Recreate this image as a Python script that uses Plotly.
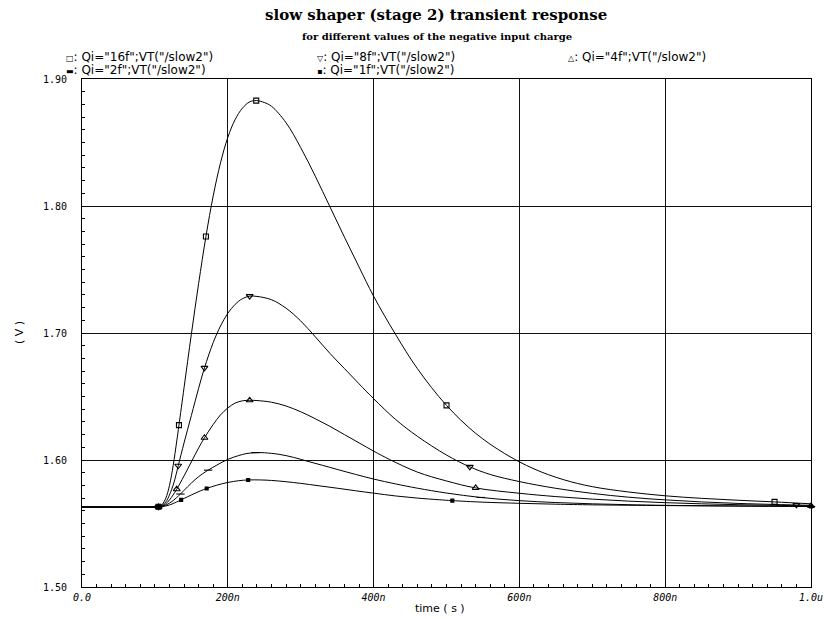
import plotly.graph_objects as go

# Transient response of the slow shaper, stage 2 output, VT("/slow2")
# time in ns, voltage in V

time_16f = [0, 100, 105, 110, 115, 120, 125, 130, 133, 140, 150, 160, 170, 180, 190, 200, 210,
            220, 230, 239, 250, 260, 280, 300, 320, 340, 360, 380, 400, 430, 460, 500, 540, 580,
            620, 660, 700, 750, 800, 850, 900, 950, 1000]
vt_16f = [1.563, 1.563, 1.5632, 1.5650, 1.5700, 1.5800, 1.5955, 1.6150, 1.6275, 1.6570, 1.6990,
          1.7390, 1.7760, 1.8080, 1.8340, 1.8540, 1.8680, 1.8770, 1.8820, 1.8830, 1.8815, 1.8785,
          1.8655, 1.8460, 1.8235, 1.7995, 1.7755, 1.7520, 1.7290, 1.6990, 1.6720, 1.6430, 1.6210,
          1.6050, 1.5930, 1.5846, 1.5790, 1.5748, 1.5718, 1.5698, 1.5683, 1.5670, 1.5655]

time_8f = [0, 100, 105, 110, 115, 120, 126, 132, 140, 150, 160, 168, 180, 190, 200, 210, 220,
           230, 240, 260, 280, 300, 320, 340, 360, 380, 400, 430, 460, 500, 532, 560, 600, 650,
           700, 750, 800, 850, 900, 950, 980, 1000]
vt_8f = [1.563, 1.563, 1.5632, 1.5645, 1.5670, 1.5725, 1.5820, 1.5955, 1.6135, 1.6350, 1.6565,
         1.6725, 1.6925, 1.7055, 1.7155, 1.7225, 1.7270, 1.7290, 1.7288, 1.7262, 1.7195, 1.7095,
         1.6970, 1.6840, 1.6720, 1.6600, 1.6483, 1.6320, 1.6187, 1.6039, 1.5946, 1.5886, 1.5830,
         1.5777, 1.5737, 1.5707, 1.5686, 1.5670, 1.5658, 1.5650, 1.5646, 1.5643]

time_4f = [0, 100, 105, 110, 115, 120, 125, 130, 140, 150, 160, 168, 180, 190, 200, 210, 220,
           230, 240, 260, 280, 300, 320, 340, 360, 380, 400, 422, 460, 500, 540, 600, 650, 700,
           750, 800, 850, 900, 950, 1000]
vt_4f = [1.563, 1.563, 1.5631, 1.5638, 1.5655, 1.5685, 1.5725, 1.5770, 1.5875, 1.5985, 1.6095,
         1.6175, 1.6280, 1.6355, 1.6410, 1.6448, 1.6466, 1.6470, 1.6468, 1.6455, 1.6425, 1.6380,
         1.6325, 1.6265, 1.6200, 1.6135, 1.6070, 1.6004, 1.5905, 1.5835, 1.5780, 1.5738, 1.5712,
         1.5692, 1.5676, 1.5664, 1.5655, 1.5648, 1.5643, 1.5639]

time_2f = [0, 100, 105, 110, 115, 120, 125, 130, 135, 145, 155, 165, 173, 185, 200, 215, 225,
           238, 250, 270, 290, 310, 330, 350, 375, 400, 430, 460, 500, 547, 600, 650, 700, 750,
           800, 900, 1000]
vt_2f = [1.563, 1.563, 1.5631, 1.5635, 1.5645, 1.5660, 1.5680, 1.5705, 1.5732, 1.5790, 1.5845,
         1.5890, 1.5920, 1.5960, 1.6005, 1.6035, 1.6050, 1.6058, 1.6057, 1.6045, 1.6021, 1.5989,
         1.5958, 1.5926, 1.5887, 1.5850, 1.5812, 1.5778, 1.5740, 1.5705, 1.5680, 1.5665, 1.5655,
         1.5648, 1.5643, 1.5638, 1.5635]

time_1f = [0, 100, 105, 110, 115, 120, 125, 130, 136, 145, 155, 163, 171, 185, 200, 215, 228,
           245, 260, 280, 300, 325, 350, 375, 400, 430, 460, 490, 508, 550, 600, 650, 700, 800,
           900, 1000]
vt_1f = [1.563, 1.563, 1.5631, 1.5633, 1.5638, 1.5646, 1.5657, 1.5670, 1.5686, 1.5711, 1.5738,
         1.5758, 1.5776, 1.5802, 1.5823, 1.5837, 1.5843, 1.5843, 1.5839, 1.5829, 1.5816, 1.5797,
         1.5778, 1.5758, 1.5739, 1.5717, 1.5700, 1.5687, 1.5680, 1.5668, 1.5659, 1.5652, 1.5647,
         1.5641, 1.5637, 1.5634]

# times at which each waveform carries its marker symbol
marks_16f = [105, 133, 170, 239, 500, 950]
marks_8f = [105, 132, 168, 230, 532, 980]
marks_4f = [105, 130, 168, 230, 540, 1000]
marks_2f = [105, 135, 173, 238, 547, 1000]
marks_1f = [105, 136, 171, 228, 508, 1000]

labels = ['Qi="16f";VT("/slow2")', 'Qi="8f";VT("/slow2")', 'Qi="4f";VT("/slow2")',
          'Qi="2f";VT("/slow2")', 'Qi="1f";VT("/slow2")']

x_tickvals = [0, 200, 400, 600, 800, 1000]
x_ticktext = ["0.0", "200n", "400n", "600n", "800n", "1.0u"]
y_tickvals = [1.50, 1.60, 1.70, 1.80, 1.90]
y_ticktext = ["1.50", "1.60", "1.70", "1.80", "1.90"]

series = [
    (labels[0], time_16f, vt_16f, marks_16f, "square-open", 5, "\u25a1"),
    (labels[1], time_8f, vt_8f, marks_8f, "triangle-down-open", 6, "\u25bd"),
    (labels[2], time_4f, vt_4f, marks_4f, "triangle-up-open", 6, "\u25b3"),
    (labels[3], time_2f, vt_2f, marks_2f, "line-ew-open", 6, "\u25ac"),
    (labels[4], time_1f, vt_1f, marks_1f, "square", 3, "\u25aa"),
]

fig = go.Figure()
for name, t, v, marks, sym, size, _glyph in series:
    fig.add_trace(go.Scatter(
        x=t, y=v, mode="lines", name=name, showlegend=False,
        line=dict(color="black", width=1, shape="spline", smoothing=1.0),
    ))
    mv = [v[t.index(tt)] for tt in marks]
    fig.add_trace(go.Scatter(
        x=marks, y=mv, mode="markers", showlegend=False, cliponaxis=False,
        marker=dict(symbol=sym, size=size, color="black",
                    line=dict(color="black", width=1.1)),
    ))

# plot area spans pixels x 82..811, y 79..587
def px(x):
    return (x - 82) / 729


def py(y):
    return (587 - y) / 508


# legend block above the plot, three columns by two rows
legend_pos = [(64, 57), (315, 57), (566, 57), (64, 70), (315, 70)]
for s, (lx, ly) in zip(series, legend_pos):
    name, glyph = s[0], s[-1]
    fig.add_annotation(
        xref="paper", yref="paper", x=px(lx), y=py(ly),
        xanchor="left", yanchor="middle", showarrow=False,
        text=f'<span style="font-size:8px">{glyph}</span>: {name}',
        font=dict(family="DejaVu Sans", size=12, color="black"),
    )

fig.add_annotation(
    xref="paper", yref="paper", x=px(436), y=py(15), xanchor="center", yanchor="middle",
    showarrow=False, text="slow shaper (stage 2) transient response",
    font=dict(family="DejaVu Serif", size=15, color="black", weight="bold"),
)
fig.add_annotation(
    xref="paper", yref="paper", x=px(437), y=py(37), xanchor="center", yanchor="middle",
    showarrow=False, text="for different values of the negative input charge",
    font=dict(family="DejaVu Serif", size=10, color="black", weight="bold"),
)
# axis titles
fig.add_annotation(
    xref="paper", yref="paper", x=px(440), y=py(608), xanchor="center", yanchor="middle",
    showarrow=False, text="time ( s )",
    font=dict(family="DejaVu Sans", size=11, color="black"),
)
fig.add_annotation(
    xref="paper", yref="paper", x=px(19), y=py(333), xanchor="center", yanchor="middle",
    showarrow=False, text="( V )", textangle=-90,
    font=dict(family="DejaVu Sans", size=11, color="black"),
)

fig.update_layout(
    width=827, height=619,
    paper_bgcolor="white", plot_bgcolor="white",
    margin=dict(l=82, r=16, t=79, b=32, autoexpand=False),
    xaxis=dict(
        range=[0, 1000], tickmode="array", tickvals=x_tickvals, ticktext=x_ticktext,
        automargin=False,
        showgrid=True, gridcolor="#111", gridwidth=1, zeroline=False,
        showline=True, linecolor="black", linewidth=1, mirror=True,
        ticks="inside", ticklen=4, tickcolor="black",
        minor=dict(tickmode="linear", tick0=0, dtick=20, ticks="inside", ticklen=3,
                   tickcolor="black", showgrid=False),
        ticklabelstandoff=1,
        tickfont=dict(family="DejaVu Sans Mono", size=10, color="black", style="italic"),
    ),
    yaxis=dict(
        range=[1.50, 1.90], tickmode="array", tickvals=y_tickvals, ticktext=y_ticktext,
        automargin=False,
        showgrid=True, gridcolor="#111", gridwidth=1, zeroline=False,
        showline=True, linecolor="black", linewidth=1, mirror=True,
        ticks="inside", ticklen=4, tickcolor="black",
        minor=dict(tickmode="linear", tick0=1.50, dtick=0.01, ticks="inside", ticklen=3,
                   tickcolor="black", showgrid=False),
        ticklabelstandoff=12,
        tickfont=dict(family="DejaVu Sans Mono", size=10, color="black"),
    ),
)

fig.write_html("out.html")
